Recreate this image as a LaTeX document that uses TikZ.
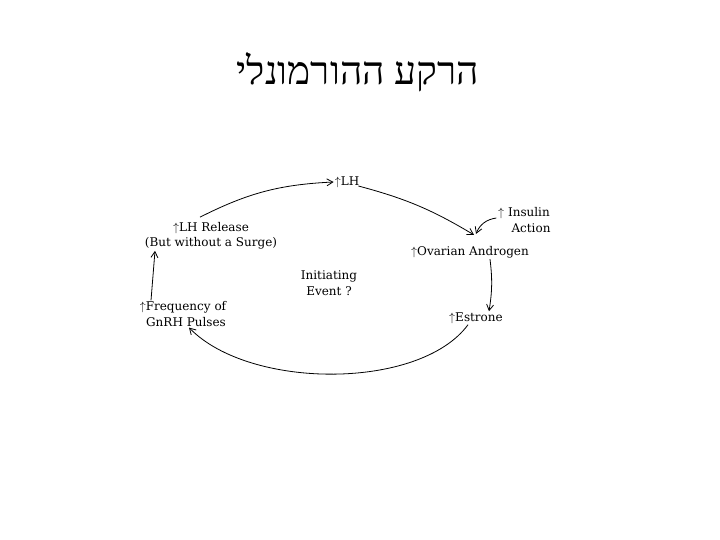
\documentclass[tikz,border=0pt]{standalone}
\usepackage{fontspec}
\setmainfont{DejaVu Serif}
\newfontfamily\hebfont[Script=Hebrew]{Liberation Serif}
\TeXXeTstate=1
\usetikzlibrary{arrows.meta}

\begin{document}
\begin{tikzpicture}[
  x=1pt, y=-1pt,
  lbl/.style={align=center, inner sep=1pt, font=\fontsize{12}{15.5}\selectfont},
  ttl/.style={inner sep=0pt, font=\fontsize{39}{42}\selectfont\hebfont},
  ar/.style={-{Straight Barb[length=6pt,width=7pt]}, thick}
]
  \useasboundingbox (0,0) rectangle (720,540);
  \node[ttl] (title) at (358,72) {\beginR הרקע ההורמונלי\endR};
  \node[lbl] (lh) at (347,182) {$\uparrow$LH};
  \node[lbl] (insulin) at (524,220) {$\uparrow$ Insulin\\\hspace*{14pt}Action};
  \node[lbl] (andro) at (470,252) {$\uparrow$Ovarian Androgen};
  \node[lbl] (estrone) at (476,318) {$\uparrow$Estrone};
  \node[lbl] (freq) at (183,314) {$\uparrow$Frequency of\\\hspace*{6pt}GnRH Pulses};
  \node[lbl] (lhrel) at (211,236) {$\uparrow$LH Release\\(But without a Surge)};
  \node[lbl] (init) at (329,283) {Initiating\\Event ?};
  \draw[ar] ([xshift=-11pt,yshift=4pt]lhrel.north) to[bend left=12] (lh.west);
  \draw[ar] ([xshift=-2pt,yshift=-4pt]lh.east) to[bend left=8] ([xshift=4pt,yshift=10pt]andro.north);
  \draw[ar] ([yshift=2pt]insulin.west) to[bend right=30] ([xshift=6pt,yshift=11pt]andro.north);
  \draw[ar] ([xshift=20pt]andro.south) to[bend left=8] ([xshift=13pt]estrone.north);
  \draw[ar] ([xshift=-8pt]estrone.south) .. controls (420,390) and (250,390) .. ([xshift=6pt]freq.south);
  \draw[ar] ([xshift=-32pt]freq.north) -- ([xshift=-56pt]lhrel.south);
\end{tikzpicture}
\end{document}
